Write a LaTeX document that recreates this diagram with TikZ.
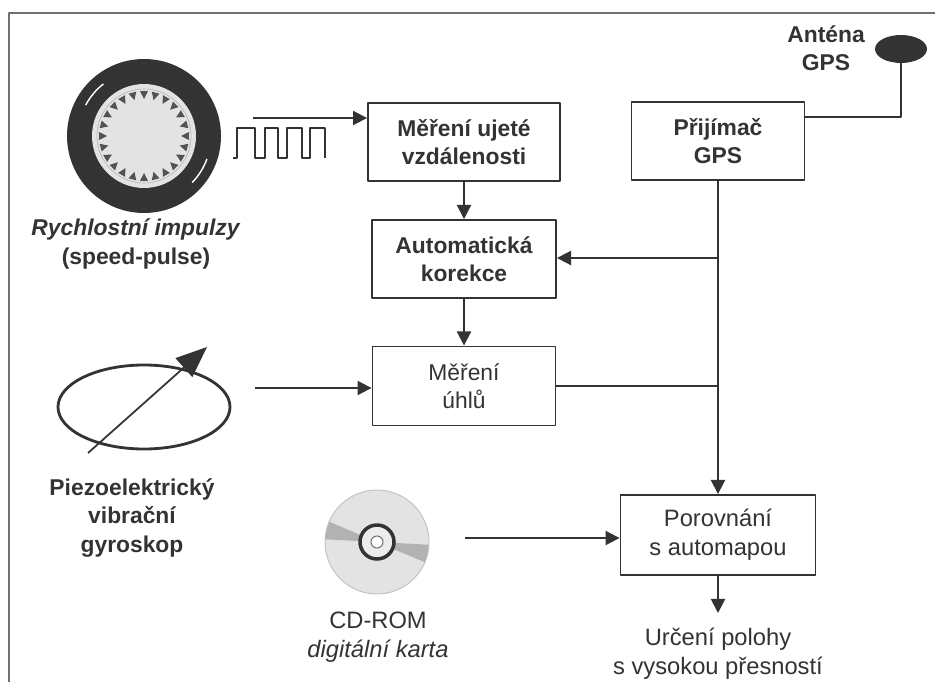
\documentclass[tikz,border=0pt]{standalone}
\usepackage{fontspec}
\setmainfont{Liberation Sans}
\usetikzlibrary{arrows.meta,shapes.geometric}
\colorlet{ink}{black!80}

\begin{document}
\begin{tikzpicture}[x=0.02cm, y=-0.02cm, line join=round,
    box/.style={draw=ink, line width=1.1pt, text=ink, align=center, inner sep=2pt,
      font=\fontsize{13}{16}\selectfont\bfseries},
    lbl/.style={text=ink, align=center, font=\fontsize{13}{16}\selectfont\bfseries},
    plain/.style={font=\fontsize{13.5}{16.5}\selectfont},
    conn/.style={draw=ink, line width=1.1pt, -{Triangle[length=8pt,width=8pt]}},
    wire/.style={draw=ink, line width=1.1pt}]
  \useasboundingbox[fill=white] (0,0) rectangle (935,682);
  % frame
  \draw[ink!70, line width=1pt] (9,682) -- (9,13) -- (935,13);

  % blocks
  \node[box, minimum width=3.84cm, minimum height=1.56cm] (dist) at (464,142) {Měření ujeté\\vzdálenosti};
  \node[box, minimum width=3.68cm, minimum height=1.56cm] (corr) at (464,259) {Automatická\\korekce};
  \node[box, font=\fontsize{13}{16}\selectfont, minimum width=3.66cm, minimum height=1.58cm] (angle) at (464,386) {Měření\\úhlů};
  \node[box, minimum width=3.46cm, minimum height=1.56cm] (gps) at (718,141) {Přijímač\\GPS};
  \node[box, plain, minimum width=3.9cm, minimum height=1.6cm] (map) at (718,535) {Porovnání\\s automapou};

  % wheel
  \fill[ink] (144,136) circle [radius=77];
  \draw[white, line width=0.8pt] (144,136) ++(208:66) arc [start angle=208, end angle=232, radius=66];
  \draw[white, line width=0.8pt] (144,136) ++(20:67) arc [start angle=20, end angle=44, radius=67];
  \fill[gray!22] (144,136) circle [radius=52];
  \draw[gray!55, line width=0.4pt] (144,136) circle [radius=47];
  \foreach \a in {0,15,...,345}
    \fill[ink!85] ([shift={(\a:37)}]144,136) -- ([shift={(\a-5:45)}]144,136) -- ([shift={(\a+5:45)}]144,136) -- cycle;
  \node[lbl] (wheellbl) at (136,244) {\textit{Rychlostní impulzy}\\(speed-pulse)};

  % pulses
  \draw[ink, line width=0.8pt] (233,158) -- (237,158) -- (237,128) -- (255,128) -- (255,158)
    -- (265,158) -- (265,128) -- (278,128) -- (278,158) -- (287,158) -- (287,128) -- (302,128)
    -- (302,158) -- (310,158) -- (310,128) -- (325,128) -- (325,158);
  \coordinate (pulse) at (253,118);

  % gyroscope
  \draw[ink, line width=1.6pt] (144,407) ellipse [x radius=86, y radius=42];
  \draw[ink, line width=1pt, -{Triangle[length=0.62cm, width=0.5cm]}] (88,453) -- (207,347);
  \coordinate (gyro) at (255,388);
  \node[lbl] (gyrolbl) at (132,518) {Piezoelektrický\\vibrační\\gyroskop};

  % cd
  \fill[gray!22] (377,542) circle [radius=52];
  \fill[gray!60] (377,542) -- ++(183:52) arc [start angle=183, end angle=203, radius=52] -- cycle;
  \fill[gray!60] (377,542) -- ++(3:52) arc [start angle=3, end angle=23, radius=52] -- cycle;
  \draw[gray!50, line width=0.5pt] (377,542) circle [radius=52];
  \draw[ink, line width=2pt, fill=gray!15] (377,542) circle [radius=17];
  \draw[ink!70, line width=0.6pt, fill=white] (377,542) circle [radius=6];
  \coordinate (cd) at (465,538);
  \node[lbl, plain] (cdlbl) at (378,637) {CD-ROM\\\textit{digitální karta}};

  % antenna
  \node[ellipse, fill=ink, minimum width=1.04cm, minimum height=0.56cm, inner sep=0pt] (ant) at (901,49) {};
  \node[lbl] (antlbl) at (826,48) {Anténa\\GPS};

  % connections
  \coordinate (tap) at (718,258);
  \coordinate (fix) at (718,613);
  \draw[conn] (pulse) -- (pulse -| dist.west);
  \draw[conn] (dist) -- (corr);
  \draw[conn] (corr) -- (angle);
  \draw[conn] (gyro) -- (gyro -| angle.west);
  \draw[wire] (ant.south) |- ([yshift=0.48cm]gps.east);
  \draw[conn] (gps) -- (map);
  \draw[conn] (tap) -- (tap -| corr.east);
  \draw[wire] (angle.east) -- (angle.east -| gps.south);
  \draw[conn] (cd) -- (cd -| map.west);
  \draw[conn] (map) -- (fix);
  \node[lbl, plain] (fixlbl) at (718,654) {Určení polohy\\s vysokou přesností};
\end{tikzpicture}
\end{document}
